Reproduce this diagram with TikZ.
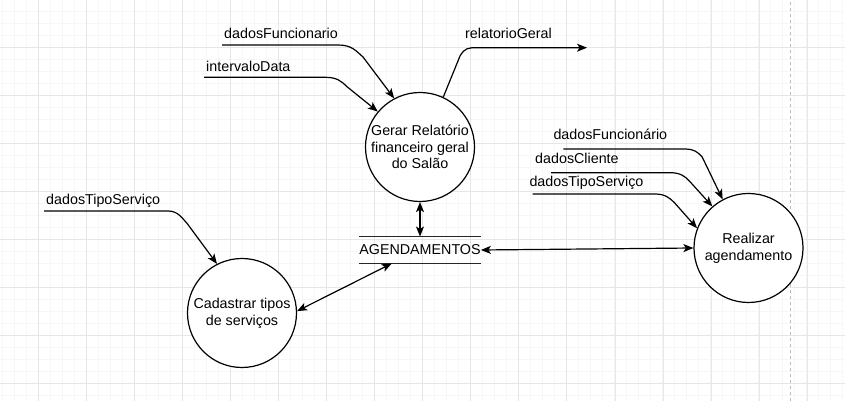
\documentclass[tikz,border=0pt]{standalone}
\usepackage{fontspec}
\setmainfont{Liberation Sans}
\usetikzlibrary{arrows.meta,calc}
\definecolor{gridminor}{RGB}{247,247,247}
\definecolor{gridmajor}{RGB}{230,230,230}
\definecolor{dashgray}{RGB}{185,185,185}
\tikzset{
  proc/.style={circle, draw, line width=1.2pt, minimum size=109pt, inner sep=0pt, align=center, fill=white,
    font=\fontsize{14.3}{16.7}\selectfont},
  lbl/.style={anchor=west, inner sep=0pt, text height=10.3pt, text depth=3pt, font=\fontsize{14.3}{16.7}\selectfont},
  flow/.style={line width=1.2pt, -{Stealth[length=10pt,width=8pt,inset=2.5pt]}},
  biflow/.style={line width=1.2pt, {Stealth[length=10pt,width=8pt,inset=2.5pt]}-{Stealth[length=10pt,width=8pt,inset=2.5pt]}},
  storeline/.style={line width=1.2pt, draw=black!85}
}
\begin{document}
\begin{tikzpicture}[x=1pt,y=1pt]
\useasboundingbox (0,0) rectangle (845,401);
\fill[white] (0,0) rectangle (845,401);
% grid
\foreach \i in {0,...,70} {\draw[gridminor, line width=0.8pt] ({2.3+12*\i},0) -- ++(0,401);}
\foreach \i in {0,...,33} {\draw[gridminor, line width=0.8pt] (0,{5.7+12*\i}) -- ++(845,0);}
\foreach \i in {-1,...,17} {\draw[gridmajor, line width=0.8pt] ({38.3+48.05*\i},0) -- ++(0,401);}
\foreach \i in {0,...,8} {\draw[gridmajor, line width=0.8pt] (0,{17.7+48.05*\i}) -- ++(845,0);}
\draw[dashgray, line width=0.8pt, dash pattern=on 3pt off 3pt] (790.7,0) -- (790.7,401);

% processes
\node[proc] (gerar) at (420,254) {Gerar Relatório\\financeiro geral\\do Salão};
\node[proc] (real) at (748.5,153) {Realizar\\agendamento};
\node[proc] (cad) at (242,88) {Cadastrar tipos\\de serviços};

% data store
\node[inner sep=0pt, minimum width=120pt, minimum height=26.6pt, font=\fontsize{14.3}{16.7}\selectfont] (store) at (420,151) {AGENDAMENTOS};
\draw[storeline] (store.north west) -- (store.north east);
\draw[storeline] (store.south west) -- (store.south east);

% free ends
\coordinate (f1) at (222,356);
\coordinate (f2) at (204,323.7);
\coordinate (f3) at (587,353.3);
\coordinate (f4) at (44,190);
\coordinate (f5) at (563.3,252);
\coordinate (f6) at (551,228.3);
\coordinate (f7) at (532.7,207);

% flows
\draw[flow] (f1) -- (338,356) .. controls (352,356) and (356,350) .. (363,344) -- (gerar.118);
\draw[flow] (f2) -- (325,323.7) .. controls (337,323.7) and (341,320) .. (347,314.3) -- (gerar.140);
\draw[flow] (gerar.65) -- (460,345) .. controls (465,353.3) and (468,353.3) .. (478,353.3) -- (f3);
\draw[biflow] (gerar.south) -- (store.north);
\draw[biflow] (store.east) -- (real.west);
\draw[biflow] ([xshift=-28.3pt]store.south) -- (cad.2);
\draw[flow] (f4) -- (168,190) .. controls (178,190) and (182,183) .. (187,177.7) -- (cad.117);
\draw[flow] (f5) -- (686,252) .. controls (693,252) and (698,249) .. (702,244.3) -- (real.118);
\draw[flow] (f6) -- (670,228.3) .. controls (680,228.3) and (685,225) .. (690,219.3) -- (real.131);
\draw[flow] (f7) -- (655,207) .. controls (665,207) and (670,203) .. (675,197.7) -- (real.159);

% labels
\node[lbl] (l1) at (224,366) {dadosFuncionario};
\node[lbl] (l2) at (206,333.3) {intervaloData};
\node[lbl] (l3) at (465,366) {relatorioGeral};
\node[lbl] (l4) at (46,200) {dadosTipoServiço};
\node[lbl] (l5) at (553.3,265.3) {dadosFuncionário};
\node[lbl] (l6) at (535,241) {dadosCliente};
\node[lbl] (l7) at (529.3,217.7) {dadosTipoServiço};
\end{tikzpicture}
\end{document}
